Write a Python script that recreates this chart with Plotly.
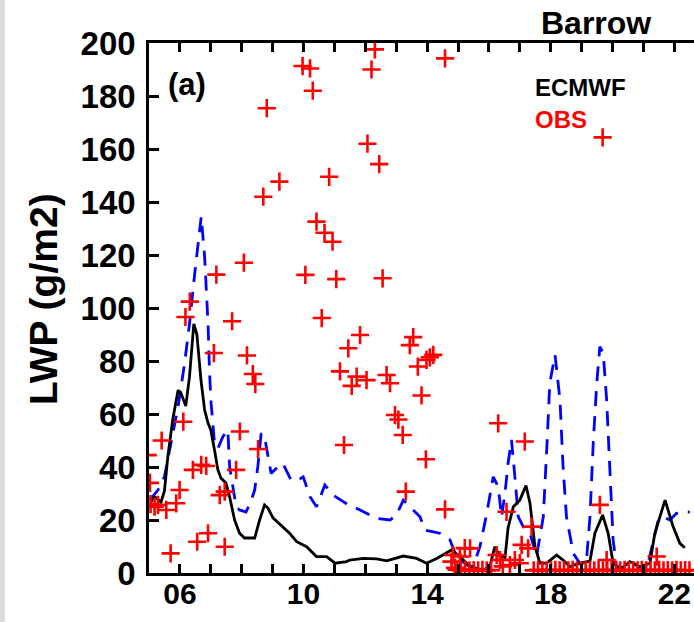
import plotly.graph_objects as go

# ---------------- data ----------------
ecmwf_x = [5.06, 5.18, 5.39, 5.50, 5.61, 5.77, 5.94, 6.03, 6.19, 6.31, 6.45, 6.55, 6.68, 6.80, 6.91,
           7.00, 7.12, 7.23, 7.33, 7.49, 7.61, 7.77, 7.93, 8.09, 8.42, 8.58, 8.74, 8.85, 9.01, 9.27,
           9.55, 9.78, 9.99, 10.10, 10.42, 10.75, 11.02, 11.39, 11.50, 11.93, 12.37, 12.69, 13.23,
           13.66, 13.98, 14.31, 14.79, 15.06, 15.39, 15.82, 16.03, 16.19, 16.36, 16.52, 16.62, 16.79,
           17.00, 17.20, 17.33, 17.49, 17.65, 17.87, 18.19, 18.40, 18.62, 18.94, 19.27, 19.43, 19.68,
           19.86, 20.02, 20.27, 20.56, 20.89, 21.21, 21.37, 21.70, 21.96, 22.18, 22.34]
ecmwf_y = [26.8, 28.8, 26.8, 31, 44, 58, 69, 68, 63, 74, 94, 90, 73, 61.5, 56.6,
           54, 46.4, 38.9, 35.8, 34, 28.7, 20, 15, 13.2, 13.2, 20, 25.7, 24.5, 20.8, 18,
           15, 11.8, 10.6, 9.9, 6.2, 6.2, 3.7, 4.3, 4.9, 5.5, 5.3, 4.6, 6.4,
           5.5, 3.7, 5.5, 8.7, 6.2, 2.4, 1.1, 2.4, 9.9, 6.2, 5.7, 17, 25,
           27.5, 33, 26.3, 10, 3.7, 3.7, 6.8, 4.9, 2.4, 3.7, 4.5, 15, 21.9,
           15, 3.7, 1.5, 4.3, 2.4, 3.7, 15, 27.5, 17.5, 11.2, 9.5]

model2_x = [5.02, 5.29, 5.50, 5.72, 5.94, 6.15, 6.31, 6.48, 6.58, 6.69, 6.80, 6.85, 6.91, 6.96, 7.01,
            7.12, 7.23, 7.39, 7.55, 7.61, 7.72, 7.82, 7.93, 8.14, 8.31, 8.42, 8.52, 8.63, 8.74, 8.85,
            8.95, 9.17, 9.33, 9.60, 9.82, 9.99, 10.21, 10.42, 10.69, 10.96, 11.45, 11.83, 12.37, 12.80,
            13.01, 13.23, 13.44, 13.77, 13.93, 14.41, 14.74, 14.95, 15.28, 15.49, 15.71, 15.93, 16.14,
            16.30, 16.41, 16.52, 16.62, 16.73, 16.84, 16.95, 17.11, 17.33, 17.54, 17.76, 17.87, 17.97,
            18.14, 18.30, 18.40, 18.51, 18.73, 18.94, 19.15, 19.27, 19.38, 19.49, 19.59, 19.70, 19.81,
            19.92, 20.02, 20.13, 20.46, 20.67, 20.89, 21.10, 21.32, 21.48, 21.64, 21.86, 22.07, 22.29, 22.5]
model2_y = [27.5, 31.3, 36.3, 49, 62.8, 79, 94, 113, 124.4, 134.5, 119.4, 109, 94.2, 75.4, 64,
            49, 47, 51.4, 54, 40, 31.3, 25, 23.8, 23, 27.5, 31.3, 40, 52.7, 51.4, 44,
            37.6, 40, 41.4, 35, 35, 36.3, 28.8, 25, 33.2, 29.4, 25.7, 23.8, 20.6, 20,
            21.9, 27.5, 25, 21.2, 16.2, 15, 12.5, 6.2, 3, 2.4, 10, 22.5, 36.3,
            32.6, 21.2, 30, 41.4, 50.2, 36.3, 21.2, 17.5, 15, 6.2, 21.2, 46.4, 71.6,
            82.3, 65.3, 40, 21.2, 7.4, 3.7, 3.7, 21.2, 50, 71.6, 85.4, 82.9, 65.3,
            36.3, 12.5, 2.4, 1.9, 3.7, 1.9, 1.1, 12.5, 20, 21.2, 20, 22.5, 23.1, 23]

obs_x = [12.31, 9.97, 10.21, 12.20, 10.30, 14.58, 8.81, 12.07, 12.45, 10.83, 9.22, 8.70, 10.42, 10.68,
         10.94, 8.07, 7.18, 10.06, 11.06, 12.56, 6.32, 6.18, 10.59, 7.69, 19.68,
         11.83, 11.45, 7.10, 8.17, 11.18, 11.72, 12.04, 11.56, 8.36, 8.44, 12.69, 12.80, 13.55, 13.44,
         14.20, 14.09, 13.98, 13.70, 13.82, 12.96, 13.07, 13.21, 11.31, 13.96, 13.31, 14.58,
         6.11, 7.94, 5.41, 8.53, 4.96, 6.69, 6.42, 6.85, 7.82, 5.03, 5.05, 5.99, 7.45, 7.29, 5.29, 5.56,
         5.88, 5.18, 6.91, 6.56, 7.45, 5.70,
         16.30, 17.16, 16.57, 17.38, 15.39, 14.84, 15.06, 14.79, 17.06, 17.27, 16.25, 16.36, 16.84,
         17.00, 19.59, 19.81, 21.43, 15.22, 14.90, 16.45, 16.68,
         14.95, 15.09, 15.23, 15.37, 15.51, 15.65, 15.79, 15.93, 16.07,
         17.45, 17.59, 17.73, 17.87, 18.01, 18.15, 18.29, 18.43, 18.57, 18.71, 18.85, 18.99, 19.13,
         19.27, 19.41, 19.55, 19.69, 19.83, 19.97, 20.11, 20.25, 20.39, 20.53, 20.67, 20.81, 20.95,
         21.09, 21.23, 21.37, 21.51, 21.65, 21.79, 21.93, 22.07, 22.21, 22.35, 22.49]
obs_y = [197.6, 191.3, 190.4, 190, 182, 194.2, 175.4, 162, 154.3, 149.5, 147.7, 142, 132.6, 128.4,
         125, 117.1, 112.6, 112.5, 110.9, 111.2, 102.4, 96.6, 96.2, 95, 164.4,
         89.8, 84.8, 83, 82.1, 76.1, 74.1, 72.8, 70.6, 75.1, 71.3, 74.7, 71.6, 89, 86,
         82.3, 81.4, 80.4, 77.9, 67, 59.6, 57.9, 52.1, 48.3, 42.9, 30.7, 24,
         57.1, 53.4, 50, 46.8, 44.5, 40.8, 38.9, 40.4, 38.9, 34, 26, 31.3, 30.7, 29.4, 25.7, 23.8,
         26.3, 25, 15, 11.8, 9.9, 7.4,
         56.5, 49.6, 23.1, 17.5, 9.3, 6.8, 6.2, 4.3, 10.6, 9.3, 6.8, 4.9, 4.9,
         3.7, 25.7, 4.9, 6.2, 9.4, 2.0, 2.5, 3.0,
         1.2, 1.0, 1.3, 1.0, 1.1, 1.0, 1.2, 1.0, 1.1,
         1.0, 1.2, 1.0, 1.1, 1.0, 1.2, 1.0, 1.1, 1.0, 1.2, 1.0, 1.1, 1.0,
         1.2, 1.0, 1.1, 1.0, 1.2, 1.0, 1.1, 1.0, 1.2, 1.0, 1.1, 1.0, 1.2,
         1.0, 1.1, 1.0, 1.2, 1.0, 1.1, 1.0, 1.2, 1.0, 1.1, 1.0]

x_tickvals = [6, 10, 14, 18, 22]
x_ticktext = ["06", "10", "14", "18", "22"]
y_tickvals = [0, 20, 40, 60, 80, 100, 120, 140, 160, 180, 200]

FONT = "Liberation Sans, Arial, Helvetica, sans-serif"

fig = go.Figure()
fig.add_trace(go.Scatter(x=model2_x, y=model2_y, mode="lines",
                         line=dict(color="#0000ff", width=2.8, dash="15px,10px"),
                         showlegend=False, hoverinfo="skip"))
fig.add_trace(go.Scatter(x=ecmwf_x, y=ecmwf_y, mode="lines",
                         line=dict(color="black", width=2.8),
                         showlegend=False, name="ECMWF"))
fig.add_trace(go.Scatter(x=obs_x, y=obs_y, mode="markers",
                         marker=dict(symbol="cross-thin", size=13,
                                     line=dict(color="#ff0000", width=2.6)),
                         showlegend=False, name="OBS"))

fig.update_layout(
    width=694, height=622,
    margin=dict(l=149, r=0, t=43, b=49),
    paper_bgcolor="white", plot_bgcolor="white",
    font=dict(family=FONT, color="black"),
    xaxis=dict(range=[5, 22.637], tickvals=x_tickvals, ticktext=x_ticktext,
               ticks="inside", ticklen=9, tickwidth=2.5, tickcolor="black",
               minor=dict(dtick=1, tick0=0, ticks="inside", ticklen=9, tickwidth=2.5, tickcolor="black"),
               showline=True, linecolor="black", linewidth=2.5, mirror="allticks",
               showgrid=False, zeroline=False,
               tickfont=dict(family=FONT, size=30, weight="bold", color="black"),
               ticklabelstandoff=-8),
    yaxis=dict(range=[0, 200], tickvals=y_tickvals,
               ticks="inside", ticklen=10, tickwidth=2.5, tickcolor="black",
               showline=True, linecolor="black", linewidth=2.5, mirror=False,
               showgrid=False, zeroline=False,
               tickfont=dict(family=FONT, size=33, weight="bold", color="black"),
               ticklabelstandoff=4),
    shapes=[dict(type="rect", xref="paper", yref="paper",
                 x0=-149 / 545, x1=-144 / 545, y0=-49 / 530, y1=1 + 43 / 530,
                 fillcolor="#dcdcdc", line=dict(width=0), layer="below")],
    annotations=[
        dict(text="LWP (g/m2)", xref="paper", yref="paper", x=(43 - 149) / 545, y=(573 - 299) / 530,
             textangle=-90, showarrow=False, xanchor="center", yanchor="middle",
             font=dict(family=FONT, size=39, weight="bold", color="black")),
        dict(text="Barrow", xref="paper", yref="paper", x=(596 - 149) / 545, y=1 + 20 / 530,
             showarrow=False, xanchor="center", yanchor="middle",
             font=dict(family=FONT, size=32, weight="bold", color="black")),
        dict(text="(a)", xref="paper", yref="paper", x=(187 - 149) / 545, y=(573 - 84) / 530,
             showarrow=False, xanchor="center", yanchor="middle",
             font=dict(family=FONT, size=31, weight="bold", color="black")),
        dict(text="ECMWF", xref="paper", yref="paper", x=(533 - 149) / 545, y=(573 - 87) / 530,
             showarrow=False, xanchor="left", yanchor="middle",
             font=dict(family=FONT, size=24, weight="bold", color="black")),
        dict(text="OBS", xref="paper", yref="paper", x=(533 - 149) / 545, y=(573 - 120) / 530,
             showarrow=False, xanchor="left", yanchor="middle",
             font=dict(family=FONT, size=24, weight="bold", color="#ff0000")),
    ],
)

fig.write_html("out.html",
               config={"displayModeBar": False},
               post_script="document.body.style.margin='0';document.body.style.padding='0';")
